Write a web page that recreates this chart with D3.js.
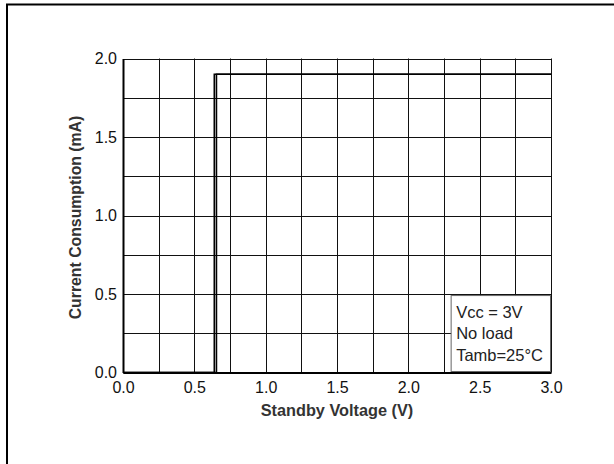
<!DOCTYPE html>
<html><head><meta charset="utf-8">
<script src="https://cdn.jsdelivr.net/npm/d3@7"></script>
<style>html,body{margin:0;padding:0;background:#fff;}svg{display:block;}</style>
</head><body>
<script>
// Data
const xTicks = [0.0, 0.5, 1.0, 1.5, 2.0, 2.5, 3.0];
const yTicks = [0.0, 0.5, 1.0, 1.5, 2.0];
const xGrid = [0.25, 0.5, 0.75, 1.0, 1.25, 1.5, 1.75, 2.0, 2.25, 2.5, 2.75, 3.0];
const yGrid = [0.25, 0.5, 0.75, 1.0, 1.25, 1.5, 1.75, 2.0];
const rampUpV = [0.0, 0.64, 0.64, 3.0];
const rampUpI = [0.0, 0.0, 1.9, 1.9];
const rampDownV = [0.0, 0.655, 0.655, 3.0];
const rampDownI = [0.0, 0.0, 1.9, 1.9];
const noteLines = ["Vcc = 3V", "No load", "Tamb=25\u00B0C"];
const xTitle = "Standby Voltage (V)";
const yTitle = "Current Consumption (mA)";

const W = 614, H = 464;
const m = {left: 123, right: 551, top: 58.5, bottom: 372.5};
const svg = d3.select("body").append("svg").attr("width", W).attr("height", H);
const font = "Arial, 'Liberation Sans', sans-serif";

// Outer frame
svg.append("path").attr("d", `M7,${H} V4.5 H${W}`).attr("fill", "none").attr("stroke", "#000").attr("stroke-width", 2);

const x = d3.scaleLinear().domain([0, 3]).range([m.left, m.right]);
const y = d3.scaleLinear().domain([0, 2]).range([m.bottom, m.top]);

// Grid
const g = svg.append("g");
g.selectAll(".vg").data(xGrid).join("line")
  .attr("x1", d => Math.round(x(d)) + 0.5).attr("x2", d => Math.round(x(d)) + 0.5)
  .attr("y1", y(2)).attr("y2", y(0))
  .attr("stroke", "#111").attr("stroke-width", 1);
g.selectAll(".hg").data(yGrid).join("line")
  .attr("y1", d => Math.round(y(d)) + 0.5).attr("y2", d => Math.round(y(d)) + 0.5)
  .attr("x1", x(0)).attr("x2", x(3))
  .attr("stroke", "#111").attr("stroke-width", 1);

// Note box (white background covering grid)
const bx = x(2.3), by = y(0.49), bw = x(3) - x(2.3) - 0.5, bh = y(0) - y(0.49) - 1;
svg.append("rect").attr("x", bx).attr("y", by).attr("width", bw).attr("height", bh)
  .attr("fill", "#fff").attr("stroke", "#666").attr("stroke-width", 1);
svg.append("g").selectAll("text").data(noteLines).join("text")
  .attr("x", bx + 5).attr("y", (d, i) => by + 22 + i * 21.5)
  .attr("font-family", font).attr("font-size", 16.5).attr("fill", "#222")
  .text(d => d);

// Axes
const xAxis = d3.axisBottom(x).tickValues(xTicks).tickFormat(d3.format(".1f")).tickSize(0).tickPadding(9);
const yAxis = d3.axisLeft(y).tickValues(yTicks).tickFormat(d3.format(".1f")).tickSize(0).tickPadding(6);
const gx = svg.append("g").attr("transform", `translate(0,${y(0)})`).call(xAxis);
const gy = svg.append("g").attr("transform", `translate(${x(0)},0)`).call(yAxis);
[gx, gy].forEach(a => {
  a.select(".domain").attr("stroke", "#000").attr("stroke-width", 2);
  a.selectAll("text").attr("font-family", font).attr("font-size", 16).attr("fill", "#111");
});
gy.selectAll("text").attr("dy", "0.32em");
gx.selectAll("text").attr("dy", "0.71em");

// Data lines
const line = d3.line().x(d => x(d[0])).y(d => y(d[1]));
[[rampUpV, rampUpI], [rampDownV, rampDownI]].forEach(([vs, is]) => {
  svg.append("path").datum(vs.map((v, i) => [v, is[i]]))
    .attr("d", line).attr("fill", "none").attr("stroke", "#000").attr("stroke-width", 1.6);
});

// Titles
svg.append("text").attr("x", (x(0) + x(3)) / 2).attr("y", 416)
  .attr("text-anchor", "middle").attr("font-family", font).attr("font-weight", "bold")
  .attr("font-size", 16.3).attr("fill", "#333").text(xTitle);
svg.append("text").attr("transform", `translate(81,${(y(0) + y(2)) / 2 + 2}) rotate(-90)`)
  .attr("text-anchor", "middle").attr("font-family", font).attr("font-weight", "bold")
  .attr("font-size", 15.8).attr("fill", "#333").text(yTitle);
</script>
</body></html>
